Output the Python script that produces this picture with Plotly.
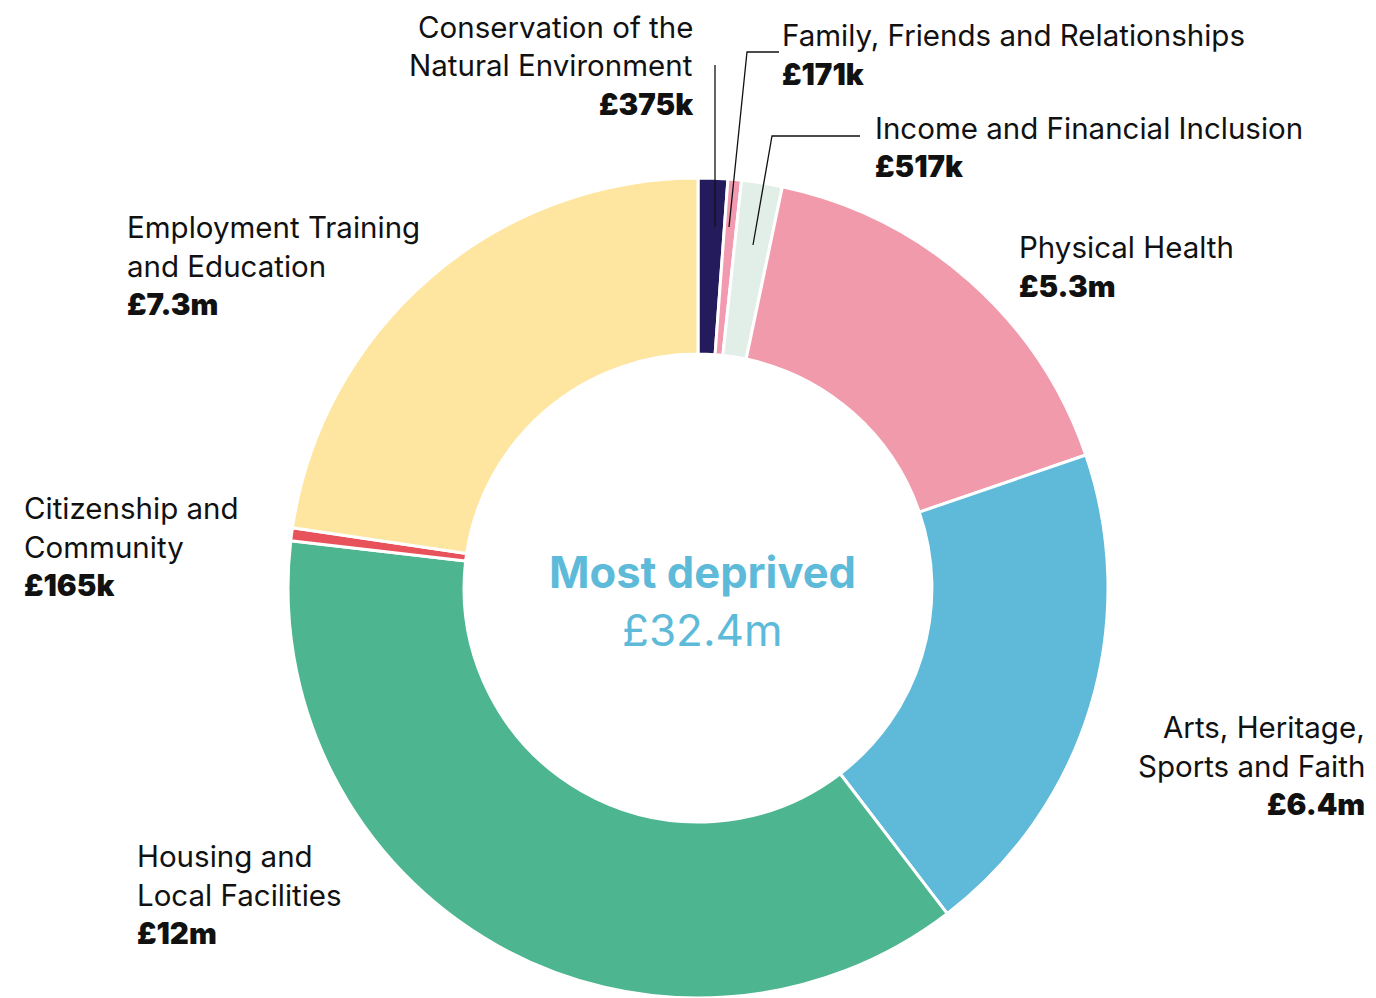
import plotly.graph_objects as go

W, H = 1376, 998
OFF = 8  # default body margin of the html page
FW, FH = W - OFF, H - OFF

categories = [
    "Conservation of the Natural Environment",
    "Family, Friends and Relationships",
    "Income and Financial Inclusion",
    "Physical Health",
    "Arts, Heritage, Sports and Faith",
    "Housing and Local Facilities",
    "Citizenship and Community",
    "Employment Training and Education",
]
values_m = [0.375, 0.171, 0.517, 5.3, 6.4, 12.0, 0.165, 7.3]
value_labels = ["£375k", "£171k", "£517k", "£5.3m", "£6.4m", "£12m", "£165k", "£7.3m"]
label_lines = [
    ["Conservation of the", "Natural Environment"],
    ["Family, Friends and Relationships"],
    ["Income and Financial Inclusion"],
    ["Physical Health"],
    ["Arts, Heritage,", "Sports and Faith"],
    ["Housing and", "Local Facilities"],
    ["Citizenship and", "Community"],
    ["Employment Training", "and Education"],
]
colors = ["#231b5c", "#f29bb0", "#e1efe8", "#f09aab", "#5fb9d8", "#4db590", "#e8525a", "#fee6a0"]
center_title = "Most deprived"
center_total = "£32.4m"

# label anchor (page pixel x, first line pixel y centre, alignment)
label_pos = [
    (695, 27, "right"),
    (780, 35, "left"),
    (873, 128, "left"),
    (1017, 247, "left"),
    (1367, 727, "right"),
    (135, 856, "left"),
    (22, 508, "left"),
    (125, 227, "left"),
]
LINE = 38.5
FONT = "Inter, Open Sans, sans-serif"
FS = 29.5

cx, cy, R, r_in = 698, 589, 411, 234.5


def px(x):
    return (x - OFF) / FW


def py(y):
    return 1 - (y - OFF) / FH


fig = go.Figure(go.Pie(
    labels=categories,
    values=values_m,
    sort=False,
    direction="clockwise",
    rotation=0,
    hole=r_in / R,
    marker=dict(colors=colors, line=dict(color="white", width=3)),
    textinfo="none",
    hoverinfo="label+value",
    showlegend=False,
    domain=dict(x=[px(cx - R), px(cx + R)], y=[max(0, py(cy + R)), py(cy - R)]),
))

annotations = []
for lines, val, (x, y0, al) in zip(label_lines, value_labels, label_pos):
    anchor = "right" if al == "right" else "left"
    for i, t in enumerate(lines):
        annotations.append(dict(
            x=px(x), y=py(y0 + i * LINE), xref="paper", yref="paper",
            text=t, showarrow=False, xanchor=anchor, yanchor="middle",
            font=dict(family=FONT, size=FS, color="#111111"),
        ))
    annotations.append(dict(
        x=px(x), y=py(y0 + len(lines) * LINE), xref="paper", yref="paper",
        text=val, showarrow=False, xanchor=anchor, yanchor="middle",
        font=dict(family=FONT, size=FS, color="#111111", weight=900),
    ))

annotations.append(dict(
    x=px(702), y=py(572), xref="paper", yref="paper", text=center_title,
    showarrow=False, xanchor="center", yanchor="middle",
    font=dict(family=FONT, size=43.5, color="#5ebad9", weight=700),
))
annotations.append(dict(
    x=px(702), y=py(630), xref="paper", yref="paper", text=center_total,
    showarrow=False, xanchor="center", yanchor="middle",
    font=dict(family=FONT, size=44, color="#5ebad9"),
))


def path(points):
    d = "M " + " L ".join(f"{px(a)},{py(b)}" for a, b in points)
    return dict(type="path", path=d, xref="paper", yref="paper",
                line=dict(color="#111111", width=1.3))


shapes = [
    path([(715, 65), (715, 227)]),
    path([(779, 52), (747, 52), (729, 227)]),
    path([(860, 136), (772, 136), (753, 245)]),
]

fig.update_layout(
    width=FW, height=FH,
    margin=dict(l=0, r=0, t=0, b=0),
    paper_bgcolor="white", plot_bgcolor="white",
    annotations=annotations,
    shapes=shapes,
)

fig.write_html("out.html")
